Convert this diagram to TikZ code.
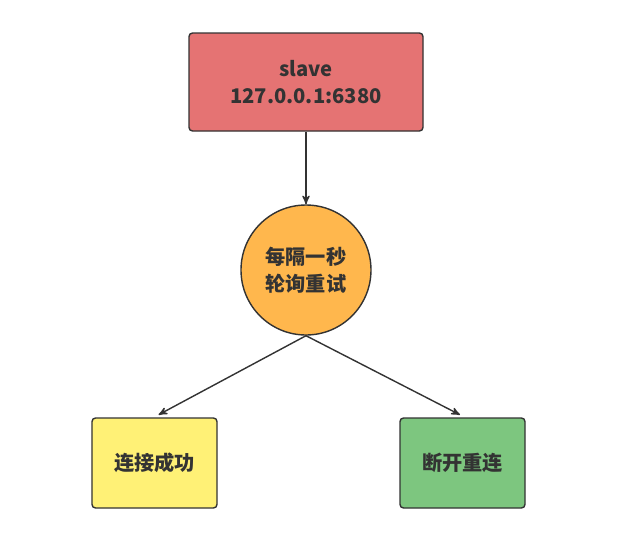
\documentclass[tikz,border=0pt]{standalone}
\usepackage{fontspec}
\setmainfont{Noto Sans CJK SC}
\usetikzlibrary{arrows,shapes,positioning,calc}
\definecolor{redfill}{HTML}{E57373}
\definecolor{orangefill}{HTML}{FFB74D}
\definecolor{yellowfill}{HTML}{FFF176}
\definecolor{greenfill}{HTML}{7DC67F}
\definecolor{edgegray}{HTML}{333333}
\tikzset{
    box/.style={
        rectangle,
        rounded corners=2pt,
        thick,
        draw=edgegray,
        align=center,
        font=\bfseries\fontsize{11.5}{15.5}\selectfont,
        text=edgegray,
    },
    retry/.style={
        circle,
        thick,
        draw=edgegray,
        fill=orangefill,
        align=center,
        minimum size=2.6cm,
        font=\bfseries\fontsize{11.5}{15.5}\selectfont,
        text=edgegray,
    },
}

\begin{document}
\begin{tikzpicture}[>=stealth',every edge/.style={draw=edgegray,thick}]
	    \useasboundingbox (0,0) rectangle (12.4,-10.9);
	    \node [box,fill=redfill,minimum width=4.68cm,minimum height=1.96cm] (slave) at (6.12,-1.64) {slave\\127.0.0.1:6380};
	    \node [retry] (poll) at (6.12,-5.4) {每隔一秒\\轮询重试};
	    \node [box,fill=yellowfill,minimum width=2.5cm,minimum height=1.8cm] (ok) at (3.09,-9.26) {连接成功};
	    \node [box,fill=greenfill,minimum width=2.5cm,minimum height=1.8cm] (reconnect) at (9.25,-9.26) {断开重连};
	    \path[->] (slave) edge (poll);
	    \path[->] (poll.south) edge ($(ok.north)+(0.08,0.05)$);
	    \path[->] (poll.south) edge ($(reconnect.north)+(-0.05,0.05)$);
	\end{tikzpicture}
\end{document}
